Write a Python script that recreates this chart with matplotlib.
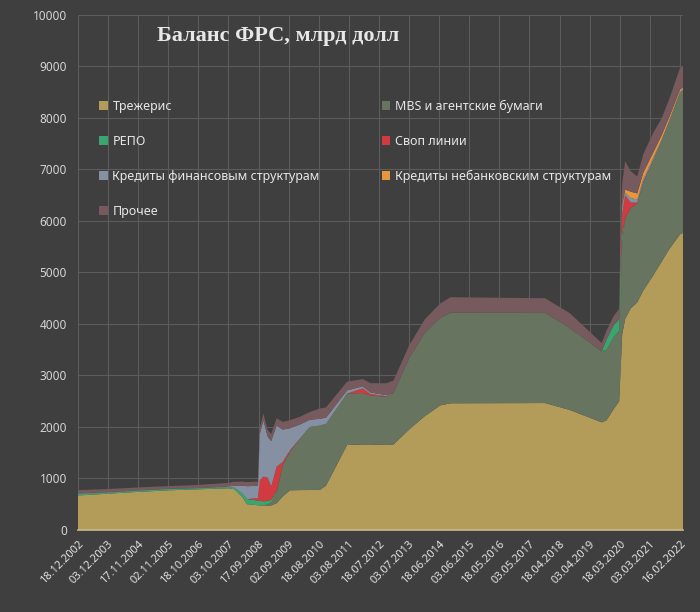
import numpy as np
import pandas as pd
import matplotlib
matplotlib.use('Agg')
import matplotlib.pyplot as plt

plt.rcParams['font.family'] = ['Noto Sans', 'DejaVu Sans']

# ключевые даты (недельные отчёты ФРС), значения в млрд долл
dates = ['18.12.2002', '03.12.2003', '17.11.2004', '02.11.2005', '18.10.2006',
         '03.10.2007', '12.12.2007', '12.03.2008', '07.05.2008', '10.09.2008',
         '01.10.2008', '12.11.2008', '31.12.2008', '11.02.2009', '15.04.2009',
         '24.06.2009', '16.09.2009', '13.01.2010', '05.05.2010', '01.09.2010',
         '10.11.2010', '13.07.2011', '11.01.2012', '11.04.2012', '10.10.2012',
         '02.01.2013', '03.07.2013', '01.01.2014', '02.07.2014', '29.10.2014',
         '01.11.2017', '15.08.2018', '21.08.2019', '16.10.2019', '08.01.2020',
         '11.03.2020', '25.03.2020', '15.04.2020', '20.05.2020', '22.07.2020',
         '07.10.2020', '16.12.2020', '14.04.2021', '14.07.2021', '13.10.2021',
         '16.02.2022', '23.03.2022']

treasury = [670, 705, 740, 770, 790,
            810, 790, 640, 500, 480,
            476, 476, 476, 476, 520,
            650, 770, 775, 776, 780,
            860, 1650, 1660, 1660, 1650,
            1660, 1950, 2210, 2420, 2460,
            2465, 2330, 2090, 2130, 2350,
            2500, 3000, 3800, 4100, 4300,
            4420, 4650, 4950, 5200, 5450,
            5740, 5770]
mbs = [0, 0, 0, 0, 0,
       0, 0, 0, 0, 0,
       0, 0, 20, 60, 200,
       600, 745, 1000, 1224, 1250,
       1200, 1000, 1000, 950, 940,
       1000, 1380, 1620, 1700, 1760,
       1750, 1590, 1380, 1370, 1400,
       1370, 1550, 1750, 1950, 1950,
       1920, 2100, 2250, 2350, 2480,
       2750, 2770]
repo = [30, 20, 25, 25, 20,
        25, 30, 70, 100, 90,
        90, 80, 70, 50, 30,
        10, 0, 0, 0, 0,
        0, 0, 0, 0, 0,
        0, 0, 0, 0, 0,
        0, 0, 0, 200, 230,
        220, 400, 180, 10, 0,
        0, 0, 0, 0, 0,
        0, 0]
swap = [0, 0, 0, 0, 0,
        0, 0, 0, 0, 50,
        400, 480, 450, 260, 480,
        60, 30, 5, 0, 0,
        0, 0, 90, 30, 10,
        0, 0, 0, 0, 0,
        0, 0, 0, 0, 0,
        0, 200, 420, 440, 110,
        15, 15, 0, 0, 0,
        0, 0]
credit_fin = [10, 10, 5, 5, 5,
              10, 40, 150, 250, 240,
              900, 1094, 800, 880, 800,
              630, 430, 270, 140, 130,
              120, 60, 40, 30, 20,
              0, 0, 0, 0, 0,
              0, 0, 0, 0, 0,
              0, 150, 130, 50, 90,
              60, 50, 40, 20, 20,
              20, 20]
credit_nonbank = [0] * 36 + [0, 40, 60, 120, 120, 120, 100, 80, 60, 40, 30]
other = [65, 60, 56, 52, 60,
         70, 75, 80, 80, 80,
         110, 130, 130, 140, 140,
         150, 155, 150, 150, 200,
         200, 170, 140, 180, 230,
         240, 250, 260, 280, 300,
         285, 290, 160, 170, 180,
         200, 300, 400, 550, 400,
         330, 360, 380, 330, 350,
         420, 410]

tick_labels = ['18.12.2002', '03.12.2003', '17.11.2004', '02.11.2005', '18.10.2006',
               '03.10.2007', '17.09.2008', '02.09.2009', '18.08.2010', '03.08.2011',
               '18.07.2012', '03.07.2013', '18.06.2014', '03.06.2015', '18.05.2016',
               '03.05.2017', '18.04.2018', '03.04.2019', '18.03.2020', '03.03.2021',
               '16.02.2022']

labels = ['Трежерис', 'MBS и агентские бумаги', 'РЕПО', 'Своп линии',
          'Кредиты финансовым структурам', 'Кредиты небанковским структурам', 'Прочее']
colors = ['#b39c5a', '#67745f', '#3aa56e', '#d13b3f', '#8590a3', '#e8963c', '#775a5e']

x = pd.to_datetime(dates, format='%d.%m.%Y')
ticks = pd.to_datetime(tick_labels, format='%d.%m.%Y')

bg = '#3f3f3f'
fig = plt.figure(figsize=(7, 6.12), dpi=100, facecolor=bg)
ax = fig.add_axes([0.1114, 0.134, 0.8643, 0.8415], facecolor=bg)

ax.stackplot(x, treasury, mbs, repo, swap, credit_fin, credit_nonbank, other,
             colors=colors, labels=labels, linewidth=0, zorder=2)

ax.set_ylim(0, 10000)
ax.set_yticks(np.arange(0, 10001, 1000))
ax.set_xlim(x[0], x[-1])
ax.set_xticks(ticks)
ax.set_xticklabels(tick_labels, rotation=45, ha='right', va='top',
                   rotation_mode='anchor', fontsize=8, fontweight='bold', color='#e2e2e2')
ax.tick_params(axis='y', length=0, pad=8, labelsize=8.5, labelcolor='#d4d4d4')
ax.tick_params(axis='x', length=0, pad=6)
ax.grid(True, color='#5c5c5c', linewidth=0.8, zorder=1)
ax.set_axisbelow(True)
for s in ['top', 'right', 'left']:
    ax.spines[s].set_visible(False)
ax.spines['bottom'].set_color('#c9b98a')
ax.spines['bottom'].set_linewidth(1.2)
ax.spines['bottom'].set_zorder(3)

# порядок в легенде: по строкам, как в оригинале
h, l = ax.get_legend_handles_labels()
order = [0, 2, 4, 6, 1, 3, 5]
leg = ax.legend([h[i] for i in order], [l[i] for i in order], ncol=2,
                loc='upper left', bbox_to_anchor=(0.025, 0.847), frameon=False,
                fontsize=9, labelcolor='#e6e6e6', handlelength=0.7, handleheight=0.7,
                handletextpad=0.35, labelspacing=1.75, columnspacing=4.95, borderpad=0)

fig.text(0.397, 0.941, 'Баланс ФРС, млрд долл', ha='center', va='center',
         fontsize=16, fontweight='bold', family='Liberation Serif', color='#e8e8e8')

fig.savefig('out.png', dpi=100, facecolor=bg)
